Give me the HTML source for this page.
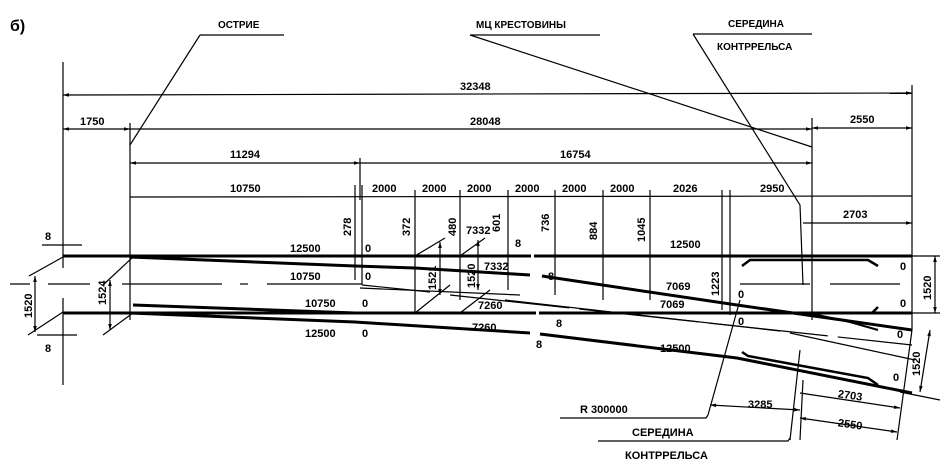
<!DOCTYPE html>
<html><head><meta charset="utf-8"><style>
html,body{margin:0;padding:0;background:#fff}
svg{display:block}
text{font-family:"Liberation Sans",Arial,sans-serif;font-size:11px;font-weight:bold;fill:#000}
</style></head><body>
<svg width="952" height="471" viewBox="0 0 952 471">
<defs>
<marker id="a" viewBox="0 0 10 10" refX="10" refY="5" markerWidth="6" markerHeight="5" orient="auto-start-reverse"><path d="M0,2L10,5L0,8z" fill="#000"/></marker>
</defs>
<g stroke="#000" fill="none" stroke-width="1.2">
<line x1="200" y1="35" x2="284" y2="35"/><line x1="200" y1="35" x2="130" y2="145"/>
<line x1="470" y1="35" x2="600" y2="35"/><line x1="470" y1="35" x2="812" y2="147"/>
<line x1="693" y1="34" x2="812" y2="34"/><polyline points="693,34 800,205 803,285"/>
<line x1="63" y1="62" x2="63" y2="268"/><line x1="63" y1="298" x2="63" y2="385"/>
<line x1="130" y1="123" x2="130" y2="320"/>
<line x1="912" y1="85" x2="912" y2="330"/>
<line x1="812" y1="118" x2="812" y2="320"/>
<line x1="360" y1="158" x2="360" y2="200"/>
<line x1="63" y1="95" x2="912" y2="93" marker-start="url(#a)" marker-end="url(#a)"/>
<line x1="63" y1="129" x2="130" y2="129" marker-start="url(#a)" marker-end="url(#a)"/>
<line x1="130" y1="129" x2="812" y2="129" marker-end="url(#a)"/>
<line x1="812" y1="128" x2="912" y2="128" marker-start="url(#a)" marker-end="url(#a)"/>
<line x1="130" y1="163" x2="360" y2="163" marker-start="url(#a)" marker-end="url(#a)"/>
<line x1="360" y1="163" x2="812" y2="163" marker-end="url(#a)"/>
<line x1="130" y1="197" x2="912" y2="196"/>
<line x1="803" y1="223" x2="912" y2="223" marker-end="url(#a)"/>
<g>
<line x1="355" y1="185" x2="355" y2="280"/><line x1="362" y1="185" x2="362" y2="285"/>
<line x1="415" y1="190" x2="415" y2="313"/><line x1="460" y1="190" x2="460" y2="300"/>
<line x1="508" y1="190" x2="508" y2="290"/><line x1="555" y1="190" x2="555" y2="295"/>
<line x1="603" y1="190" x2="603" y2="300"/><line x1="650" y1="190" x2="650" y2="300"/>
<line x1="722" y1="190" x2="722" y2="310"/><line x1="730" y1="190" x2="730" y2="315"/>
</g>
<line x1="29" y1="276" x2="63" y2="257"/><line x1="28" y1="335" x2="63" y2="312"/>
<line x1="103" y1="285" x2="133" y2="257"/><line x1="103" y1="335" x2="133" y2="313"/>
<line x1="415" y1="313" x2="450" y2="285"/><line x1="415" y1="256" x2="445" y2="238"/>
<line x1="460" y1="313" x2="490" y2="290"/><line x1="460" y1="256" x2="485" y2="238"/>
<line x1="35" y1="276" x2="35" y2="332" marker-start="url(#a)" marker-end="url(#a)"/>
<line x1="110" y1="280" x2="110" y2="330" marker-start="url(#a)" marker-end="url(#a)"/>
<line x1="440" y1="242" x2="440" y2="295" marker-start="url(#a)" marker-end="url(#a)"/>
<line x1="478" y1="240" x2="478" y2="290" marker-start="url(#a)" marker-end="url(#a)"/>
<line x1="935" y1="256" x2="935" y2="313" marker-start="url(#a)" marker-end="url(#a)"/>
<line x1="912" y1="256" x2="940" y2="256"/><line x1="912" y1="313" x2="940" y2="313"/>
<line x1="930" y1="330" x2="920" y2="392" marker-start="url(#a)" marker-end="url(#a)"/>
<line x1="42" y1="245" x2="82" y2="245"/><line x1="37" y1="335" x2="77" y2="335"/>
<line x1="10" y1="284" x2="30" y2="284"/><line x1="48" y1="284" x2="90" y2="284"/>
<line x1="122" y1="284" x2="222" y2="284"/><line x1="240" y1="284" x2="248" y2="284"/>
<line x1="267" y1="284" x2="362" y2="284"/>
<line x1="362" y1="285" x2="430" y2="292"/>
<line x1="450" y1="295" x2="912" y2="345" stroke-dasharray="120,10"/>
<line x1="740" y1="284" x2="912" y2="284" stroke-dasharray="70,20"/>
<line x1="360" y1="288" x2="520" y2="295"/>
<line x1="505" y1="300" x2="780" y2="331"/><line x1="790" y1="333" x2="915" y2="360"/>
<line x1="740" y1="300" x2="708" y2="415"/>
<line x1="800" y1="350" x2="790" y2="440"/>
<line x1="803" y1="380" x2="800" y2="440"/>
<line x1="912" y1="330" x2="897" y2="440"/>
<line x1="710" y1="405" x2="800" y2="410" marker-start="url(#a)" marker-end="url(#a)"/>
<line x1="800" y1="393" x2="900" y2="408" marker-end="url(#a)"/>
<line x1="800" y1="418" x2="897" y2="432" marker-start="url(#a)" marker-end="url(#a)"/>
<polyline points="560,418 706,418 708,415"/>
<polyline points="598,441 788,441 790,438"/>
<line x1="900" y1="392" x2="940" y2="400"/>
</g>
<g stroke="#000" fill="none" stroke-width="3">
<line x1="63" y1="256" x2="912" y2="256"/>
<line x1="63" y1="313" x2="912" y2="313"/>
<polyline points="130,257 355,266 415,268 530,275"/>
<polyline points="542,276 737,305 912,330"/>
<polyline points="133,305 355,313"/>
<polyline points="130,313 355,322 530,333"/>
<polyline points="540,334 737,358 912,393"/>
<path d="M742,266 L750,260 L868,260 L878,266" stroke-width="2.5"/>
<path d="M742,352 L748,356 L868,378 L878,385" stroke-width="2.5"/>
<path d="M818,313 L872,313 L878,307" stroke-width="2.5"/>
<path d="M808,313 L850,322 L878,330" stroke-width="2"/>
</g>
<g fill="#fff"><rect x="531" y="250" width="3" height="10"/><rect x="535" y="270" width="3" height="10"/><rect x="536" y="307" width="3" height="10"/><rect x="530" y="328" width="3" height="10"/></g>
<text x="10" y="31" style="font-size:16px">б)</text>
<text x="218" y="28" style="font-size:10px">ОСТРИЕ</text>
<text x="476" y="28" style="font-size:10px">МЦ КРЕСТОВИНЫ</text>
<text x="728" y="27" style="font-size:10px">СЕРЕДИНА</text>
<text x="717" y="50" style="font-size:10px">КОНТРРЕЛЬСА</text>
<text x="460" y="90">32348</text>
<text x="80" y="125">1750</text>
<text x="470" y="125">28048</text>
<text x="850" y="123">2550</text>
<text x="230" y="158">11294</text>
<text x="560" y="158">16754</text>
<text x="230" y="192">10750</text>
<text x="372" y="192">2000</text><text x="422" y="192">2000</text><text x="467" y="192">2000</text>
<text x="515" y="192">2000</text><text x="562" y="192">2000</text><text x="610" y="192">2000</text>
<text x="673" y="192">2026</text><text x="760" y="192">2950</text>
<text x="843" y="218">2703</text>
<g transform="rotate(-90)">
<text x="-236" y="351">278</text><text x="-236" y="410">372</text><text x="-236" y="456">480</text>
<text x="-232" y="500">601</text><text x="-232" y="549">736</text><text x="-240" y="597">884</text>
<text x="-242" y="645">1045</text>
<text x="-318" y="32">1520</text><text x="-305" y="106">1524</text>
<text x="-290" y="436">1521</text><text x="-288" y="475">1520</text>
<text x="-296" y="719">1223</text>
<text x="-300" y="931">1520</text><text x="-376" y="920">1520</text>
</g>
<text x="466" y="234">7332</text>
<text x="45" y="240">8</text><text x="45" y="352">8</text>
<text x="290" y="252">12500</text><text x="365" y="252">0</text>
<text x="290" y="280">10750</text><text x="365" y="280">0</text>
<text x="305" y="307">10750</text><text x="362" y="307">0</text>
<text x="305" y="337">12500</text><text x="362" y="337">0</text>
<text x="515" y="247">8</text><text x="484" y="270">7332</text><text x="548" y="280">8</text>
<text x="478" y="309">7260</text><text x="472" y="331">7260</text>
<text x="556" y="327">8</text><text x="536" y="348">8</text>
<text x="670" y="248">12500</text>
<text x="666" y="290">7069</text><text x="660" y="308">7069</text>
<text x="738" y="298">0</text><text x="738" y="325">0</text>
<text x="660" y="352">12500</text>
<text x="900" y="270">0</text><text x="900" y="307">0</text><text x="897" y="338">0</text><text x="893" y="381">0</text>
<text x="748" y="408">3285</text>
<text x="838" y="399" transform="rotate(8 850 395)">2703</text>
<text x="838" y="428" transform="rotate(8 850 424)">2550</text>
<text x="580" y="413">R 300000</text>
<text x="632" y="436">СЕРЕДИНА</text>
<text x="625" y="459">КОНТРРЕЛЬСА</text>
</svg>
</body></html>
